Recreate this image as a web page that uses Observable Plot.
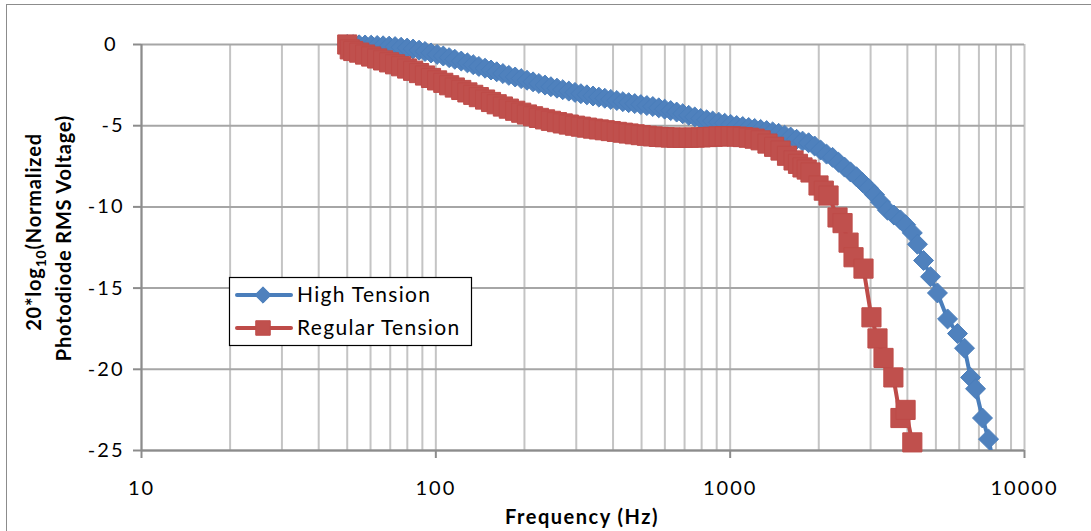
<!DOCTYPE html>
<html><head><meta charset="utf-8">
<script src="https://cdn.jsdelivr.net/npm/d3@7"></script>
<script src="https://cdn.jsdelivr.net/npm/@observablehq/plot@0.6"></script>
<style>
html,body{margin:0;padding:0;background:#fff;overflow:hidden;}
#wrap{position:relative;width:1091px;height:531px;}
#frame{position:absolute;left:6px;top:4px;width:1200px;height:600px;border:1px solid #8c8c8c;pointer-events:none;}
#wrap svg text{letter-spacing:2px;}
</style></head><body><div id="wrap"><div id="frame"></div></div>
<script>
// ---- data ----
const blueFreq = [50, 52.4, 54.9, 57.5, 60.3, 63.2, 66.2, 69.4, 72.7, 76.2, 79.9, 83.7, 87.7, 91.9, 96.3, 101, 106, 111, 116, 122, 128, 134, 140, 147, 154, 161, 169, 177, 186, 195, 204, 214, 224, 235, 246, 258, 270, 283, 297, 311, 326, 342, 358, 375, 393, 412, 432, 452, 474, 497, 521, 546, 572, 599, 628, 658, 690, 723, 758, 794, 832, 872, 914, 958, 1004, 1052, 1103, 1156, 1211, 1269, 1330, 1394, 1461, 1531, 1605, 1682, 1762, 1847, 1936, 2029, 2126, 2228, 2335, 2447, 2565, 2688, 2817, 2952, 3094, 3242, 3424, 3600, 3789, 3944, 4158, 4328, 4540, 4794, 5061, 5478, 5920, 6255, 6559, 6819, 7199, 7550, 7800];
const blueDb = [0, -0.01, -0.02, -0.03, -0.04, -0.06, -0.08, -0.10, -0.13, -0.17, -0.22, -0.28, -0.35, -0.43, -0.52, -0.61, -0.71, -0.81, -0.91, -1.02, -1.13, -1.24, -1.35, -1.46, -1.57, -1.68, -1.79, -1.9, -2.0, -2.1, -2.2, -2.3, -2.4, -2.5, -2.6, -2.69, -2.78, -2.87, -2.95, -3.03, -3.1, -3.17, -3.24, -3.31, -3.38, -3.45, -3.52, -3.58, -3.64, -3.7, -3.76, -3.82, -3.9, -3.98, -4.07, -4.16, -4.26, -4.36, -4.46, -4.56, -4.64, -4.71, -4.78, -4.85, -4.92, -4.99, -5.05, -5.11, -5.17, -5.23, -5.3, -5.38, -5.47, -5.58, -5.7, -5.84, -5.95, -6.05, -6.25, -6.5, -6.75, -6.95, -7.25, -7.55, -7.85, -8.15, -8.5, -8.85, -9.25, -9.7, -10.2, -10.5, -10.8, -11.1, -11.6, -12.3, -13.3, -14.3, -15.3, -16.9, -17.8, -18.7, -20.5, -21.2, -23.0, -24.3, -25.6];

const redFreq = [50, 51, 52.4, 54.9, 57.5, 60.3, 63.2, 66.2, 69.4, 72.7, 76.2, 79.9, 83.7, 87.7, 91.9, 96.3, 101, 106, 111, 116, 122, 128, 134, 140, 147, 154, 161, 169, 177, 186, 195, 204, 214, 224, 235, 246, 258, 270, 283, 297, 311, 326, 342, 358, 375, 393, 412, 432, 452, 474, 497, 521, 546, 572, 599, 628, 658, 690, 723, 758, 794, 832, 872, 914, 958, 1004, 1052, 1103, 1156, 1211, 1269, 1339, 1410, 1483, 1560, 1642, 1700, 1761, 1820, 1875, 1996, 2080, 2159, 2316, 2409, 2525, 2625, 2838, 3020, 3166, 3319, 3585, 3789, 3944, 4158, 4363];
const redDb = [0, -0.3, -0.4, -0.5, -0.62, -0.74, -0.86, -0.98, -1.1, -1.22, -1.34, -1.48, -1.62, -1.76, -1.91, -2.06, -2.21, -2.36, -2.51, -2.65, -2.8, -2.95, -3.1, -3.24, -3.39, -3.54, -3.68, -3.82, -3.95, -4.08, -4.2, -4.31, -4.42, -4.52, -4.61, -4.7, -4.78, -4.86, -4.93, -5.0, -5.06, -5.12, -5.18, -5.23, -5.28, -5.33, -5.38, -5.43, -5.48, -5.53, -5.58, -5.62, -5.66, -5.69, -5.71, -5.73, -5.74, -5.75, -5.74, -5.73, -5.72, -5.7, -5.68, -5.66, -5.65, -5.65, -5.67, -5.7, -5.74, -5.8, -5.9, -6.1, -6.3, -6.53, -6.85, -7.14, -7.35, -7.57, -7.7, -7.88, -8.68, -9.0, -9.3, -10.65, -11.0, -12.2, -13.1, -13.8, -16.8, -18.1, -19.3, -20.5, -23.0, -22.5, -24.5, -25.6];

const seriesNames = ["High Tension", "Regular Tension"];
const xTicks = [10, 100, 1000, 10000];
const yTicks = [0, -5, -10, -15, -20, -25];
const xTitle = "Frequency (Hz)";

const blue = blueFreq.map((f, i) => ({f, db: blueDb[i]}));
const red = redFreq.map((f, i) => ({f, db: redDb[i]}));

const BLUE_FILL = "#4F81BD", BLUE_LINE = "#4A7EBB";
const RED_FILL = "#C0504D", RED_LINE = "#BE4B48";
const AXIS = "#8c8c8c";

const chart = Plot.plot({
  width: 1091, height: 531,
  marginLeft: 141, marginRight: 67, marginTop: 44, marginBottom: 81,
  style: {fontFamily: "Lato", fontSize: "20px", color: "#000", background: "transparent", overflow: "visible"},
  x: {type: "log", domain: [10, 10000]},
  y: {domain: [-25, 0]},
  marks: [
    Plot.gridX({ticks: 30, stroke: "#c4c4c4", strokeOpacity: 1, strokeWidth: 2}),
    Plot.gridY(yTicks, {stroke: "#a6a6a6", strokeOpacity: 1, strokeWidth: 2}),
    Plot.ruleX([10], {stroke: AXIS, strokeWidth: 2}),
    Plot.ruleY([-25], {stroke: AXIS, strokeWidth: 2}),
    Plot.axisX(xTicks, {tickSize: 8, tickPadding: 22, tickFormat: d => String(d), label: null, stroke: AXIS, strokeWidth: 2, fill: "#000"}),
    Plot.axisY(yTicks, {tickSize: 8, tickPadding: 9, tickFormat: d => String(d), label: null, stroke: AXIS, strokeWidth: 2, fill: "#000"}),
    Plot.line(blue, {x: "f", y: "db", stroke: BLUE_LINE, strokeWidth: 4, clip: true}),
    Plot.dot(blue, {filter: d => d.db >= -25, x: "f", y: "db", symbol: "diamond2", r: 9, fill: BLUE_FILL, stroke: BLUE_LINE, strokeWidth: 1}),
    Plot.line(red, {x: "f", y: "db", stroke: RED_LINE, strokeWidth: 4, clip: true}),
    Plot.dot(red, {filter: d => d.db >= -25, x: "f", y: "db", symbol: "square", r: 10.8, fill: RED_FILL, stroke: RED_LINE, strokeWidth: 1})
  ]
});
document.getElementById("wrap").appendChild(chart);

const svg = d3.select(chart);
// the "0" label sits a little left of the others in the reference
svg.selectAll('g[aria-label="y-axis tick label"] text')
  .filter(function() { return this.textContent === "0"; })
  .attr("dx", -7);
// x title
svg.append("text").attr("x", 582).attr("y", 524).attr("text-anchor", "middle")
  .attr("font-weight", "bold").style("letter-spacing", "1.5px").text(xTitle);
// y title (two lines, rotated)
const yt1 = svg.append("text").attr("transform", "translate(41,232) rotate(-90)")
  .attr("text-anchor", "middle").attr("font-weight", "bold").style("letter-spacing", "0.8px");
yt1.append("tspan").text("20*log");
yt1.append("tspan").attr("dy", 5).attr("font-size", "14px").text("10");
yt1.append("tspan").attr("dy", -5).text("(Normalized");
svg.append("text").attr("transform", "translate(71,238) rotate(-90)")
  .attr("text-anchor", "middle").attr("font-weight", "bold").style("letter-spacing", "0.8px")
  .text("Photodiode RMS Voltage)");

// legend
const lg = svg.append("g").attr("text-anchor", "start");
lg.append("rect").attr("x", 229.5).attr("y", 277.5).attr("width", 242).attr("height", 68)
  .attr("fill", "#fff").attr("stroke", "#000").attr("stroke-width", 1.2);
const entries = [
  {name: seriesNames[0], y: 295, line: BLUE_LINE, fill: BLUE_FILL, sym: d3.symbolDiamond2, size: 170},
  {name: seriesNames[1], y: 328, line: RED_LINE, fill: RED_FILL, sym: d3.symbolSquare, size: 210}
];
for (const e of entries) {
  lg.append("line").attr("x1", 237).attr("x2", 291).attr("y1", e.y).attr("y2", e.y)
    .attr("stroke", e.line).attr("stroke-width", 4).attr("stroke-linecap", "round");
  lg.append("path").attr("d", d3.symbol(e.sym, e.size)()).attr("transform", `translate(263,${e.y})`)
    .attr("fill", e.fill).attr("stroke", e.line);
  lg.append("text").attr("x", 297).attr("y", e.y + 7).attr("text-anchor", "start")
    .style("font-size", "21px").style("letter-spacing", "1.3px").text(e.name);
}
</script></body></html>
